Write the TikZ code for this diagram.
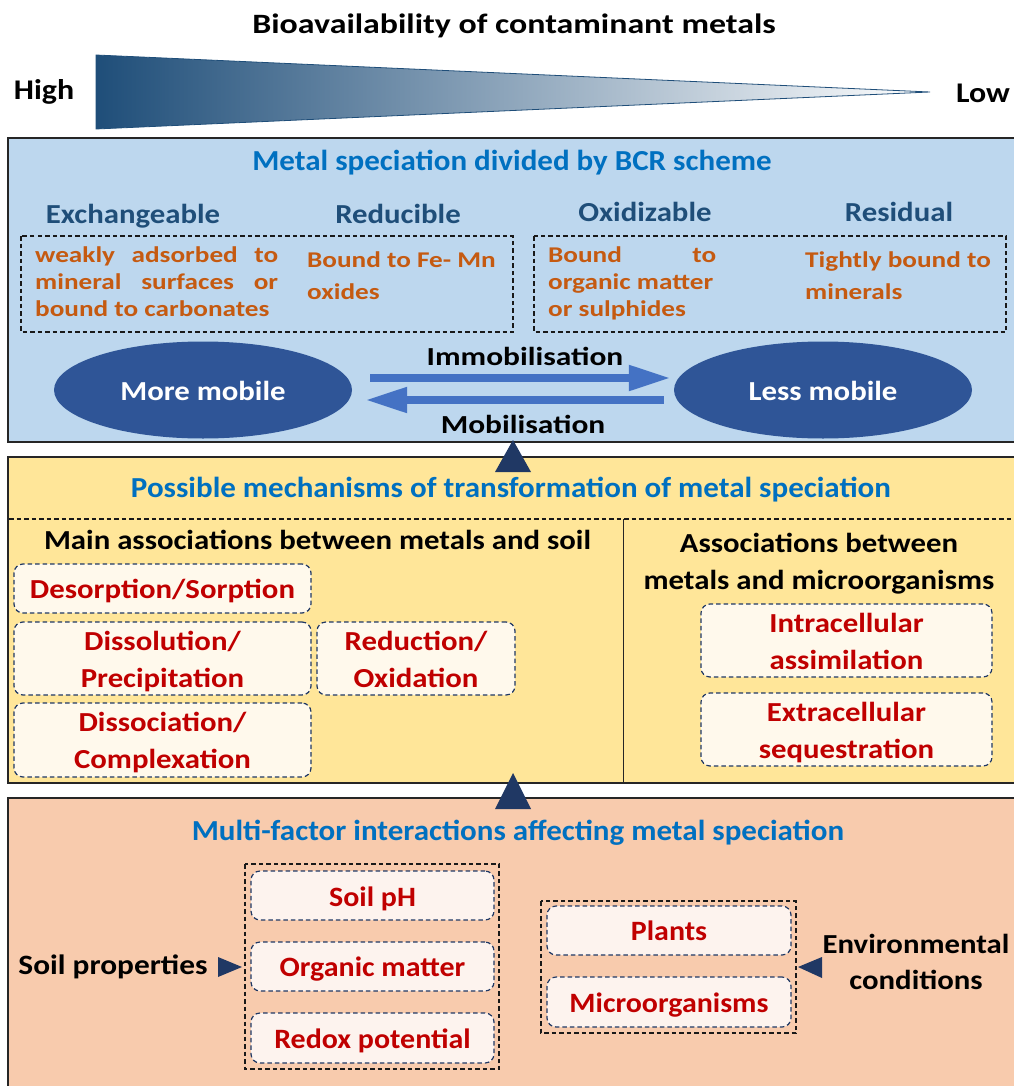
\documentclass[tikz,border=0pt]{standalone}
\usepackage{fontspec}
\setmainfont{Carlito}
\newfontfamily\fW{Carlito}[FakeStretch=1.21]
\newfontfamily\fM{Carlito}[FakeStretch=1.12]
\newfontfamily\fB{Carlito}[FakeStretch=1.07]
\usetikzlibrary{shapes.geometric,arrows.meta}
\definecolor{navyA}{HTML}{1F4E79}
\definecolor{navyB}{HTML}{203864}
\definecolor{bluefill}{HTML}{BDD7EE}
\definecolor{titleblue}{HTML}{0070C0}
\definecolor{hdrblue}{HTML}{1F4E79}
\definecolor{orangetxt}{HTML}{C55A11}
\definecolor{ellfill}{HTML}{2F5597}
\definecolor{arrowblue}{HTML}{4472C4}
\definecolor{yellowfill}{HTML}{FFE699}
\definecolor{redtxt}{HTML}{C00000}
\definecolor{creamfill}{HTML}{FFF9EC}
\definecolor{peachfill}{HTML}{F8CBAD}
\definecolor{palepeach}{HTML}{FDF3EE}
\newcommand{\fs}[1]{\fontsize{#1}{#1}\selectfont}
\newcommand{\onel}[2][9.5pt]{\makebox[0pt]{\smash{\raisebox{-#1}{#2}}}}
\newcommand{\twol}[2]{\makebox[0pt]{\smash{\raisebox{8.5pt}{#1}}}\makebox[0pt]{\smash{\raisebox{-28.5pt}{#2}}}}
\begin{document}
\begin{tikzpicture}[x=1pt,y=-1pt,
  every node/.style={inner sep=0pt, font=\bfseries},
  panel/.style={draw=black!85, line width=1.4pt},
  sectitle/.style={text=titleblue, anchor=base, font=\fB\bfseries\fs{29}},
  hdr/.style={text=hdrblue, anchor=base, font=\fM\bfseries\fs{27.5}},
  otxt/.style={text=orangetxt, font=\fW\bfseries\fs{22.5}, anchor=base west},
  dashbox/.style={draw=black!90, line width=1.2pt, dash pattern=on 4.5pt off 3pt},
  mechbox/.style={draw=navyB, line width=1.2pt, dash pattern=on 4.5pt off 3pt, rounded corners=9pt,
     fill=creamfill, text=redtxt, font=\fM\bfseries\fs{27.5}},
  factbox/.style={mechbox, fill=palepeach, font=\fB\bfseries\fs{28}},
  mob/.style={ellipse, fill=ellfill, text=white, font=\fM\bfseries\fs{27.5}, minimum width=298pt, minimum height=97pt},
  bigarrow/.style={arrowblue, line width=8pt, -{Triangle[length=42pt,width=24pt]}},
  blk/.style={text=black, anchor=base, font=\fM\bfseries\fs{27.5}},
  marker/.style={fill=navyB}
]
\useasboundingbox (0,0) rectangle (1013,1086);

% ---- top scale ----
\node[anchor=base, font=\fW\bfseries\fs{28}] (title) at (514,34) {Bioavailability of contaminant metals};
\shade[left color=navyA, right color=white, draw=navyA, line width=0.8pt] (96,55) -- (930,92) -- (96,129) -- cycle;
\node[blk, font=\fM\bfseries\fs{28.5}] (high) at (44,100) {High};
\node[blk, font=\fM\bfseries\fs{28.5}] (low) at (983,103) {Low};

% ---- BCR panel ----
\draw[panel, fill=bluefill] (8,138) rectangle (1018,442);
\node[sectitle] (bcr) at (512,171) {Metal speciation divided by BCR scheme};
\node[hdr] (exch) at (133,223) {Exchangeable};
\node[hdr] (redu) at (398,223) {Reducible};
\node[hdr] (oxid) at (645,222) {Oxidizable};
\node[hdr] (resi) at (899,221) {Residual};
\draw[dashbox] (21,236) rectangle (513,332);
\draw[dashbox] (534,236) rectangle (1006,332);
\node[otxt] (e1) at (35,262) {\makebox[243pt][s]{weakly adsorbed to}};
\node[otxt] (e2) at (35,289) {\makebox[243pt][s]{mineral surfaces or}};
\node[otxt] (e3) at (35,316.5) {bound to carbonates};
\node[otxt] (r1) at (307,267) {Bound to Fe- Mn};
\node[otxt] (r2) at (307,299) {oxides};
\node[otxt] (o1) at (548,262) {\makebox[168pt][s]{Bound to}};
\node[otxt] (o2) at (548,289) {organic matter};
\node[otxt] (o3) at (548,316.5) {or sulphides};
\node[otxt] (s1) at (805,267) {Tightly bound to};
\node[otxt] (s2) at (805,299) {minerals};
\node[mob] (more) at (203,390) {\onel[10pt]{More mobile}};
\node[mob] (less) at (823,390) {\onel[10pt]{Less mobile}};
\draw[bigarrow] ([xshift=18pt,yshift=12pt]more.east) -- ([xshift=-3pt,yshift=12pt]less.west);
\draw[bigarrow] ([xshift=-10pt,yshift=-10pt]less.west) -- ([xshift=13pt,yshift=-10pt]more.east);
\node[blk, font=\fW\bfseries\fs{26}] (immo) at (525,365) {Immobilisation};
\node[blk, font=\fW\bfseries\fs{26}] (mobi) at (523,433) {Mobilisation};

% ---- mechanisms panel ----
\draw[panel, fill=yellowfill] (8,457) rectangle (1018,783);
\fill[marker] (513,440) -- (531,472) -- (495,472) -- cycle;
\node[sectitle] (mech) at (511,497) {Possible mechanisms of transformation of metal speciation};
\draw[black!90, line width=1.2pt, dash pattern=on 4.5pt off 3pt] (9,519) -- (1016,519);
\draw[black!85, line width=1pt] (623,519) -- (623,783);
\node[blk] (soilhdr) at (317.5,549) {Main associations between metals and soil};
\node[blk] (mich1) at (819,552) {Associations between};
\node[blk] (mich2) at (819,589) {metals and microorganisms};
\node[mechbox, minimum width=297pt, minimum height=49pt] (des) at (162.5,588.5) {\onel{Desorption/Sorption}};
\node[mechbox, minimum width=297pt, minimum height=73pt] (dis) at (162.5,658.5) {\twol{Dissolution/}{Precipitation}};
\node[mechbox, minimum width=198pt, minimum height=73pt] (red) at (416,658.5) {\twol{Reduction/}{Oxidation}};
\node[mechbox, minimum width=297pt, minimum height=74pt] (ass) at (162.5,740) {\twol{Dissociation/}{Complexation}};
\node[mechbox, minimum width=291pt, minimum height=73pt] (intra) at (846.5,640.5) {\twol{Intracellular}{assimilation}};
\node[mechbox, minimum width=291pt, minimum height=73pt] (extra) at (846.5,729.5) {\twol{Extracellular}{sequestration}};

% ---- factors panel ----
\draw[panel, fill=peachfill] (8,798) rectangle (1018,1092);
\fill[marker] (513,773) -- (531,809) -- (495,809) -- cycle;
\node[sectitle] (fact) at (518,840) {Multi-factor interactions affecting metal speciation};
\draw[dashbox] (245,864) rectangle (499,1069);
\draw[dashbox] (541,901) rectangle (796,1033);
\node[factbox, minimum width=243pt, minimum height=49pt] (ph) at (372.5,895.5) {\onel[10.5pt]{Soil pH}};
\node[factbox, minimum width=243pt, minimum height=49pt] (om) at (372.5,966.5) {\onel[10pt]{Organic matter}};
\node[factbox, minimum width=243pt, minimum height=50pt] (rp) at (372.5,1038) {\onel[10pt]{Redox potential}};
\node[factbox, minimum width=244pt, minimum height=49pt] (pl) at (669,930.5) {\onel[10pt]{Plants}};
\node[factbox, minimum width=244pt, minimum height=50pt] (mo) at (669,1002) {\onel[10pt]{Microorganisms}};
\node[blk, font=\fM\bfseries\fs{28}] (soilp) at (113,974) {Soil properties};
\node[blk] (env1) at (916,953) {Environmental};
\node[blk] (env2) at (916,989) {conditions};
\fill[marker] (218,957) -- (242,967) -- (218,977) -- cycle;
\fill[marker] (798,967) -- (822,957) -- (822,978) -- cycle;
\end{tikzpicture}
\end{document}
